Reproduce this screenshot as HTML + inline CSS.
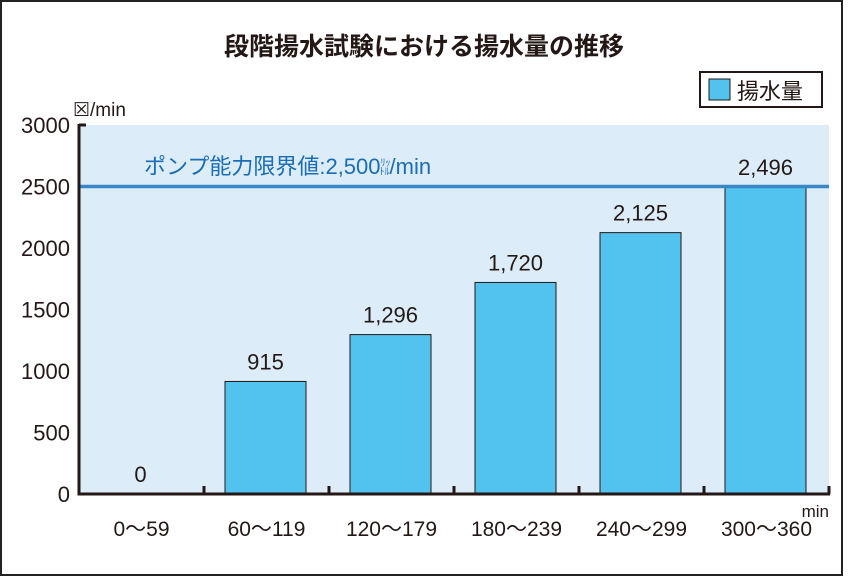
<!DOCTYPE html>
<html><head><meta charset="utf-8"><style>
body{margin:0;background:#fff;}
svg text{font-family:"Liberation Sans","Noto Sans CJK JP",sans-serif;}
</style></head><body>
<svg width="848" height="577" viewBox="0 0 848 577">
<rect x="1" y="1" width="841" height="574" fill="#fff" stroke="#222" stroke-width="2"/>
<text x="424" y="55" text-anchor="middle" font-size="25" font-weight="bold" fill="#231815">段階揚水試験における揚水量の推移</text>
<g>
<rect x="700" y="72" width="122" height="35" fill="#fff" stroke="#231815" stroke-width="2"/>
<rect x="709" y="79" width="21" height="21" fill="#52c2ef" stroke="#231815" stroke-width="1"/>
<text x="737" y="99" font-size="22" fill="#231815">揚水量</text>
</g>
<rect x="79" y="125" width="750" height="369" fill="#dcedf9"/>
<g id="bars"></g>
<g id="axes"></g>
<text x="73" y="116" font-size="19" fill="#231815">☒/min</text>
<text x="829" y="517" text-anchor="end" font-size="17" fill="#231815">min</text>
<text x="144" y="174" font-size="22" fill="#1a6db5">ポンプ能力限界値:2,500<tspan font-size="10" dy="-8">ﾘｯ</tspan><tspan font-size="10" dx="-11" dy="9">ﾄﾙ</tspan><tspan dy="-1">/min</tspan></text>
</svg>
<script>
const categories=["0〜59","60〜119","120〜179","180〜239","240〜299","300〜360"];
const values=[0,915,1296,1720,2125,2496];
const valueLabels=["0","915","1,296","1,720","2,125","2,496"];
const yTicks=[0,500,1000,1500,2000,2500,3000];
const limitValue=[2500];
const NS="http://www.w3.org/2000/svg";
const x0=79,x1=829,yTop=125,yBot=494,yMax=3000;
const cw=(x1-x0)/categories.length;
function ys(v){return yBot-(v/yMax)*(yBot-yTop);}
function xs(i){return x0+i*cw;}
function mk(t,a,p){const e=document.createElementNS(NS,t);for(const k in a)e.setAttribute(k,a[k]);p.appendChild(e);return e;}
const bars=document.getElementById('bars'),axes=document.getElementById('axes');
values.forEach((v,i)=>{
  const bx=xs(i)+21,bw=81;
  if(v>0){
    const r=mk('rect',{x:bx,y:ys(v),width:bw,height:yBot-ys(v),fill:'#52c2ef',stroke:'#231815','stroke-width':1},bars);
    
    
  }
  const t=mk('text',{x:bx+bw/2,y:ys(v)-12,'text-anchor':'middle','font-size':22,fill:'#231815'},bars);
  t.textContent=valueLabels[i];
  
  
  const c=mk('text',{x:xs(i)+cw/2,y:536,'text-anchor':'middle','font-size':21,fill:'#231815'},axes);
  c.textContent=categories[i];
  
  
  const tk=mk('line',{x1:xs(i+1),x2:xs(i+1),y1:yBot,y2:yBot-8,stroke:'#231815','stroke-width':3},axes);
  
  
});
const lim=mk('line',{x1:x0,x2:x1,y1:ys(limitValue[0]),y2:ys(limitValue[0]),stroke:'#3a87c8','stroke-width':3.5},axes);


yTicks.forEach(v=>{
  const t=mk('text',{x:70,y:ys(v)+8,'text-anchor':'end','font-size':22,fill:'#231815'},axes);
  t.textContent=v;
  
  
});
const ya=mk('line',{x1:x0,x2:x0,y1:yTop-1,y2:yBot+1.5,stroke:'#231815','stroke-width':3},axes);


const yt=mk('line',{x1:x0,x2:x0+7,y1:yTop,y2:yTop,stroke:'#231815','stroke-width':3},axes);


const xa=mk('line',{x1:x0-1.5,x2:x1+1,y1:yBot,y2:yBot,stroke:'#231815','stroke-width':3},axes);


</script>
</body></html>
